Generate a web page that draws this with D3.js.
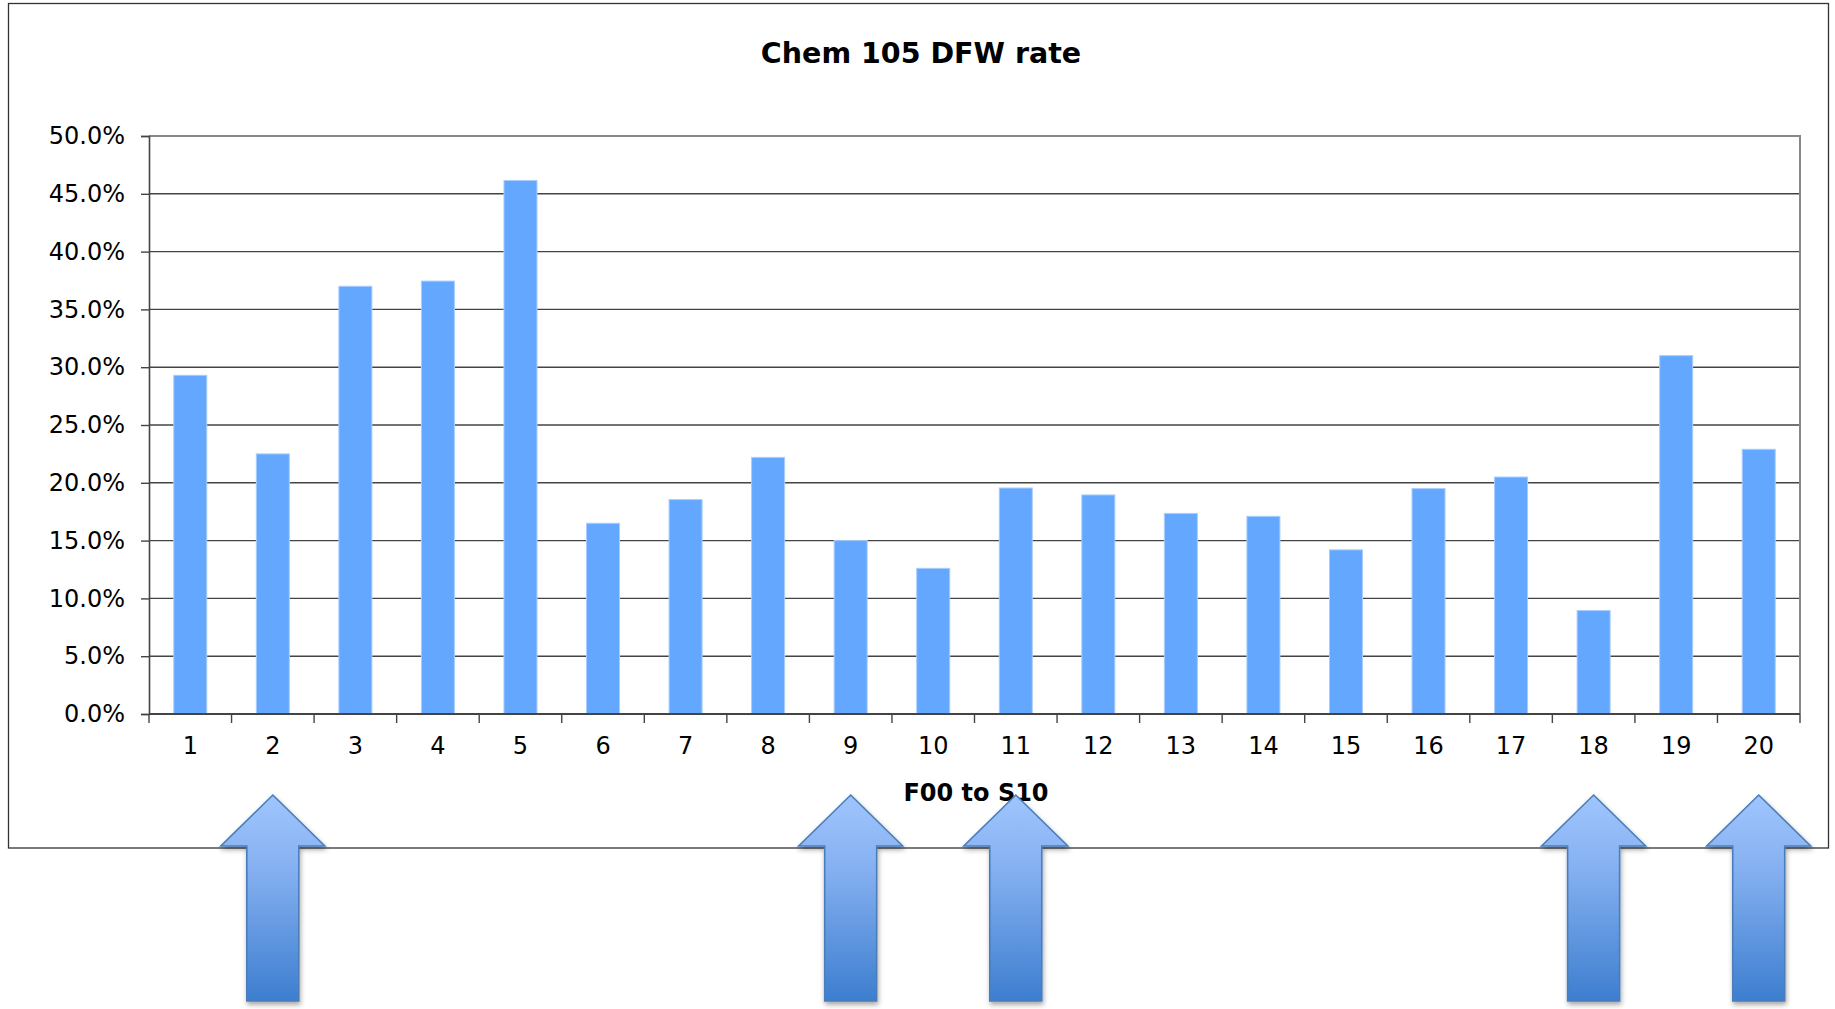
<!DOCTYPE html>
<html>
<head>
<meta charset="utf-8">
<script src="https://cdn.jsdelivr.net/npm/d3@7"></script>
<style>
  html, body { margin: 0; padding: 0; background: #fff; }
  svg { display: block; }
  text { font-family: Verdana, "DejaVu Sans", sans-serif; fill: #000; }
</style>
</head>
<body>
<script>
// ---- data ----
const categories = ["1","2","3","4","5","6","7","8","9","10","11","12","13","14","15","16","17","18","19","20"];
const dfwRate = [29.3, 22.5, 37.0, 37.45, 46.15, 16.5, 18.55, 22.2, 15.0, 12.6, 19.55, 18.95, 17.35, 17.1, 14.2, 19.5, 20.5, 8.95, 31.0, 22.9];
const yTicks = [0, 5, 10, 15, 20, 25, 30, 35, 40, 45, 50];
const arrowCategories = ["2", "9", "11", "18", "20"];
const chartTitle = "Chem 105 DFW rate";
const xAxisTitle = "F00 to S10";

// ---- layout ----
const W = 1835, H = 1009;
const plot = { left: 149, right: 1800, top: 136, bottom: 714 };

const svg = d3.select("body").append("svg").attr("width", W).attr("height", H);

const defs = svg.append("defs");
const grad = defs.append("linearGradient").attr("id", "arrowGrad")
  .attr("x1", 0).attr("y1", 0).attr("x2", 0).attr("y2", 1);
grad.append("stop").attr("offset", "0%").attr("stop-color", "#9fc5fd");
grad.append("stop").attr("offset", "35%").attr("stop-color", "#86b1f1");
grad.append("stop").attr("offset", "100%").attr("stop-color", "#3d7ecf");
const filt = defs.append("filter").attr("id", "shadow")
  .attr("x", "-20%").attr("y", "-10%").attr("width", "140%").attr("height", "130%");
filt.append("feDropShadow").attr("dx", 1).attr("dy", 3).attr("stdDeviation", 2.5)
  .attr("flood-color", "#000").attr("flood-opacity", 0.35);

// outer chart box
svg.append("rect").attr("x", 8.5).attr("y", 3.5).attr("width", 1820).attr("height", 844.5)
  .attr("fill", "#fff").attr("stroke", "#333").attr("stroke-width", 1.3);

// scales
const x = d3.scaleBand().domain(categories).range([plot.left, plot.right])
  .paddingInner(0.6).paddingOuter(0.3);
const y = d3.scaleLinear().domain([0, 50]).range([plot.bottom, plot.top]);
const step = x.step();

// gridlines
svg.append("g").selectAll("line").data(yTicks.filter(d => d > 0 && d < 50)).join("line")
  .attr("x1", plot.left).attr("x2", plot.right)
  .attr("y1", d => y(d)).attr("y2", d => y(d))
  .attr("stroke", "#444").attr("stroke-width", 1.4);

// plot border top/right
svg.append("path")
  .attr("d", `M${plot.left},${y(50)}H${plot.right}V${plot.bottom}`)
  .attr("fill", "none").attr("stroke", "#888").attr("stroke-width", 2);

// bars
svg.append("g").selectAll("rect").data(dfwRate).join("rect")
  .attr("x", (d, i) => x(categories[i]))
  .attr("width", x.bandwidth())
  .attr("y", d => y(d))
  .attr("height", d => y(0) - y(d))
  .attr("fill", "#63a8fe")
  .attr("stroke", "#a9cdfd").attr("stroke-width", 1);

// y axis
const yAxis = d3.axisLeft(y).tickValues(yTicks).tickSize(8).tickPadding(16)
  .tickFormat(d => d.toFixed(1) + "%");
const gy = svg.append("g").attr("transform", `translate(${plot.left},0)`).call(yAxis);
gy.select(".domain").attr("stroke", "#444").attr("stroke-width", 1.6);
gy.selectAll(".tick line").attr("stroke", "#444").attr("stroke-width", 1.4);
gy.selectAll(".tick text").style("font-size", "24px").attr("fill", "#000")
  .style("font-family", "Verdana, 'DejaVu Sans', sans-serif");

// x axis baseline and ticks between categories
svg.append("line").attr("x1", plot.left).attr("x2", plot.right)
  .attr("y1", y(0)).attr("y2", y(0)).attr("stroke", "#444").attr("stroke-width", 2);
const boundaries = categories.map(c => x(c) - step * 0.3).concat([plot.right]);
svg.append("g").selectAll("line").data(boundaries).join("line")
  .attr("x1", d => d).attr("x2", d => d)
  .attr("y1", y(0)).attr("y2", y(0) + 9)
  .attr("stroke", "#444").attr("stroke-width", 1.4);
svg.append("g").selectAll("text").data(categories).join("text")
  .attr("x", c => x(c) + x.bandwidth() / 2)
  .attr("y", y(0) + 32)
  .attr("dy", "0.35em")
  .attr("text-anchor", "middle")
  .style("font-size", "24px")
  .text(c => c);

// titles
svg.append("text").attr("x", 921).attr("y", 53).attr("dy", "0.35em")
  .attr("text-anchor", "middle").style("font-size", "28.5px").style("font-weight", "bold")
  .text(chartTitle);
svg.append("text").attr("x", 976).attr("y", 793).attr("dy", "0.35em")
  .attr("text-anchor", "middle").style("font-size", "24px").style("font-weight", "bold")
  .text(xAxisTitle);

// arrows (annotations)
const tipY = 795, headBaseY = 846, bottomY = 1001, headHalf = 52, shaftHalf = 26;
const arrowPath = cx => `M${cx},${tipY}L${cx + headHalf},${headBaseY}L${cx + shaftHalf},${headBaseY}` +
  `L${cx + shaftHalf},${bottomY}L${cx - shaftHalf},${bottomY}L${cx - shaftHalf},${headBaseY}` +
  `L${cx - headHalf},${headBaseY}Z`;
svg.append("g").selectAll("path").data(arrowCategories).join("path")
  .attr("d", c => arrowPath(x(c) + x.bandwidth() / 2))
  .attr("fill", "url(#arrowGrad)")
  .attr("stroke", "#4a7ebb").attr("stroke-width", 1.6).attr("stroke-linejoin", "miter")
  .attr("filter", "url(#shadow)");
</script>
</body>
</html>
